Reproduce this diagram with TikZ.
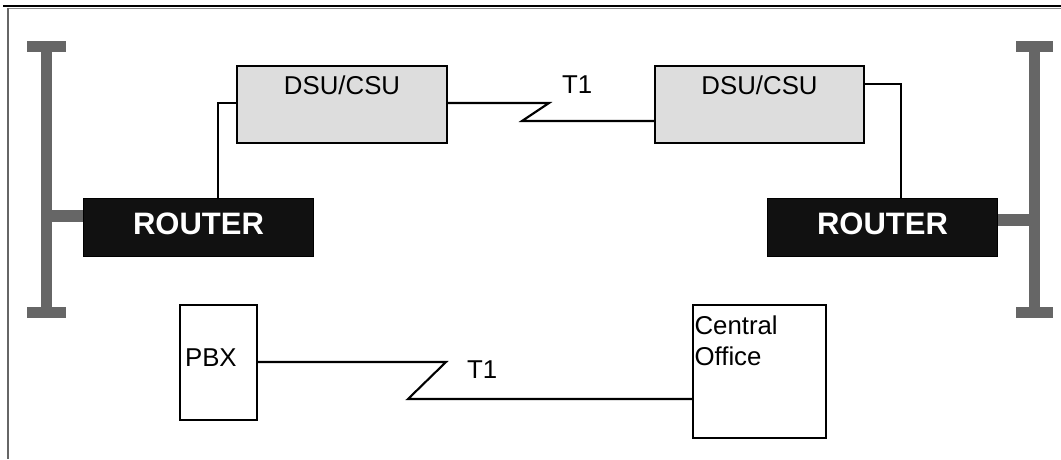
\documentclass[tikz,border=0pt]{standalone}
\usepackage{fontspec}
\setmainfont{Liberation Sans}
\definecolor{busgray}{RGB}{102,102,102}
\definecolor{framegray}{RGB}{140,140,140}
\definecolor{dsugray}{RGB}{221,221,221}
\definecolor{routerblack}{RGB}{17,17,17}
\begin{document}
\begin{tikzpicture}[x=1pt,y=-1pt,
  txt/.style={font=\fontsize{25.8}{31}\selectfont},
  box/.style={draw=black, line width=2.1pt, inner sep=0pt, anchor=north west, txt},
  dsubox/.style={box, fill=dsugray, align=center, text height=28pt, text depth=49pt},
  routerbox/.style={draw=black, line width=1pt, fill=routerblack, text=white,
    font=\bfseries\fontsize{31}{37}\selectfont, text width=230pt, align=center,
    text height=36pt, text depth=22pt, inner sep=0pt, anchor=north west},
  wire/.style={draw=black, line width=2.1pt, line join=miter},
  bus/.style={fill=busgray},
  buslink/.style={draw=busgray, line width=12pt},
  lbl/.style={txt, inner sep=0pt, anchor=base west}]
\useasboundingbox (0,0) rectangle (1061,459);
% frame
\draw[line width=1.8pt] (3,5.7) -- (1061,5.7);
\draw[framegray, line width=1.3pt] (8,8.8) -- (1061,8.8);
\draw[busgray, line width=2pt] (8.3,8) -- (8.3,459);
% nodes
\node[dsubox, text width=210pt] (dsuL) at (236,65) {DSU/CSU};
\node[dsubox, text width=209pt] (dsuR) at (654,65) {DSU/CSU};
\node[routerbox] (routerL) at (83,198) {ROUTER};
\node[routerbox] (routerR) at (767,198) {ROUTER};
\node[box, text width=67pt, inner xsep=5pt, align=left, text height=61pt, text depth=54pt] (pbx) at (179,304) {PBX};
\node[box, text width=130pt, inner xsep=1.5pt, align=left, text height=29pt, text depth=104pt] (co) at (692,304) {Central\\Office};
\node[lbl] (t1top) at (562,93) {T1};
\node[lbl] (t1bot) at (467,378) {T1};
% buses
\fill[bus] (41,41) rectangle (52,318);
\fill[bus] (27,41) rectangle (66,52);
\fill[bus] (27,307) rectangle (66,318);
\fill[bus] (1029,41) rectangle (1040,318);
\fill[bus] (1016,41) rectangle (1053,52);
\fill[bus] (1016,307) rectangle (1053,318);
\coordinate (bL) at (46.5,216);
\coordinate (bR) at (1034.5,220);
\draw[buslink] (bL) -- (bL -| routerL.west);
\draw[buslink] (bR -| routerR.east) -- (bR);
% connectors
\coordinate (aL) at (218,103);
\draw[wire] (aL |- routerL.north) -- (aL) -- (aL -| dsuL.west);
\coordinate (aR) at (901,84);
\draw[wire] (aR -| dsuR.east) -- (aR) -- (aR |- routerR.north);
\coordinate (z1) at (549,103);
\coordinate (z2) at (522,121);
\draw[wire] (z1 -| dsuL.east) -- (z1) -- (z2) -- (z2 -| dsuR.west);
\coordinate (z3) at (446,362);
\coordinate (z4) at (408,399);
\draw[wire] (z3 -| pbx.east) -- (z3) -- (z4) -- (z4 -| co.west);
\end{tikzpicture}
\end{document}
